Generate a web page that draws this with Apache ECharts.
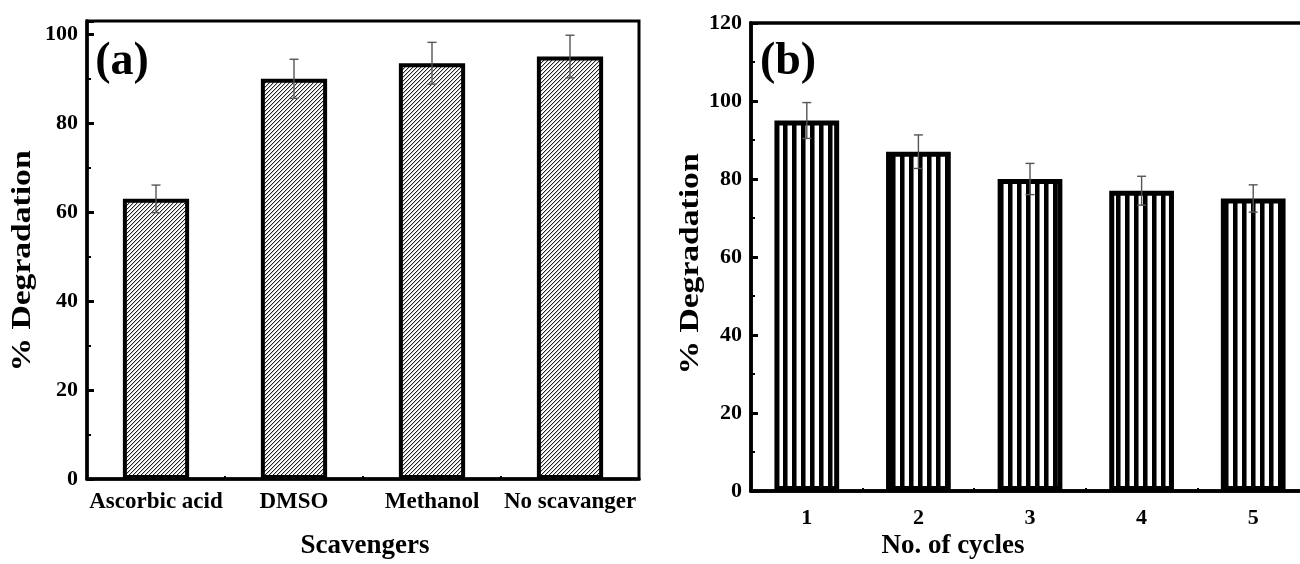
<!DOCTYPE html>
<html>
<head>
<meta charset="utf-8">
<script src="https://cdn.jsdelivr.net/npm/echarts@6/dist/echarts.min.js"></script>
<style>
  html, body { margin: 0; padding: 0; background: #fff; }
  #chart { width: 1300px; height: 564px; }
</style>
</head>
<body>
<div id="chart"></div>
<script>
// Panel (a): scavenger test
const scavengers = ['Ascorbic acid', 'DMSO', 'Methanol', 'No scavanger'];
const scavengerDegradation = [63, 90, 93.5, 95];
const scavengerError = [3.1, 4.4, 4.7, 4.8];

// Panel (b): reusability over cycles
const cycles = ['1', '2', '3', '4', '5'];
const cycleDegradation = [95, 87, 80, 77, 75];
const cycleError = [4.6, 4.3, 4.0, 3.7, 3.5];

const SERIF = '"Liberation Serif", "Times New Roman", serif';

// Dense "////" hatching tile
function hatchPattern() {
  const c = document.createElement('canvas');
  c.width = 4; c.height = 4;
  const ctx = c.getContext('2d');
  const img = ctx.createImageData(4, 4);
  for (let y = 0; y < 4; y++) {
    for (let x = 0; x < 4; x++) {
      const k = (x + y) % 4;
      const v = k === 3 ? 35 : (k === 0 ? 195 : 255);
      const p = (y * 4 + x) * 4;
      img.data[p] = img.data[p + 1] = img.data[p + 2] = v;
      img.data[p + 3] = 255;
    }
  }
  ctx.putImageData(img, 0, 0);
  return { image: c, repeat: 'repeat' };
}

// Vertical stripe tile
function stripePattern() {
  const w = 9;
  const c = document.createElement('canvas');
  c.width = w; c.height = 2;
  const ctx = c.getContext('2d');
  ctx.fillStyle = '#fff';
  ctx.fillRect(0, 0, w, 2);
  ctx.fillStyle = '#000';
  ctx.fillRect(0, 0, 4, 2);
  ctx.fillStyle = '#777';
  ctx.fillRect(4, 0, 1, 2);
  return { image: c, repeat: 'repeat' };
}

function errorBar(params, api) {
  const i = api.value(0), v = api.value(1), e = api.value(2);
  const top = api.coord([i, v + e]);
  const bot = api.coord([i, v - e]);
  const w = 4.5;
  const style = { stroke: '#555', lineWidth: 1.4, fill: null };
  return {
    type: 'group',
    children: [
      { type: 'line', shape: { x1: top[0], y1: top[1], x2: bot[0], y2: bot[1] }, style },
      { type: 'line', shape: { x1: top[0] - w, y1: top[1], x2: top[0] + w, y2: top[1] }, style },
      { type: 'line', shape: { x1: bot[0] - w, y1: bot[1], x2: bot[0] + w, y2: bot[1] }, style }
    ]
  };
}

const tickFont = { color: '#000', fontFamily: SERIF, fontWeight: 'bold' };

function valueAxis(gridIndex, max, opts) {
  return Object.assign({
    gridIndex, type: 'value', min: 0, max, interval: 20, position: 'left',
    axisLine: { show: true, lineStyle: { color: '#000', width: 3.5 } },
    axisTick: { show: true, inside: true, length: 7, lineStyle: { color: '#000', width: 3 } },
    axisLabel: Object.assign({ fontSize: 22, margin: 9, formatter: v => (v % 20 === 0 ? String(v) : '') }, tickFont),
    splitLine: { show: false }
  }, opts || {});
}

function categoryAxes(gridIndex, data, labelSize, labelMargin) {
  return [
    {
      gridIndex, type: 'category', data, position: 'bottom',
      axisLine: { show: true, lineStyle: { color: '#000', width: 3.5 } },
      axisTick: { show: true, inside: true, alignWithLabel: true, length: 7, lineStyle: { color: '#000', width: 1.5 } },
      axisLabel: Object.assign({ fontSize: labelSize, margin: labelMargin, interval: 0 }, tickFont),
      splitLine: { show: false }
    },
    {
      gridIndex, type: 'category', data, position: 'bottom',
      axisLine: { show: false },
      axisTick: { show: true, inside: true, length: 3, lineStyle: { color: '#000', width: 2 } },
      axisLabel: { show: false },
      splitLine: { show: false }
    }
  ];
}

function textEl(text, x, y, size, extra) {
  return Object.assign({
    type: 'text', x, y,
    style: {
      text, fill: '#000',
      font: 'bold ' + size + 'px ' + SERIF,
      textAlign: 'center', textVerticalAlign: 'middle',
      align: 'center', verticalAlign: 'middle'
    }
  }, extra || {});
}

const chart = echarts.init(document.getElementById('chart'), null, { renderer: 'canvas' });

chart.setOption({
  animation: false,
  backgroundColor: '#fff',
  grid: [
    { left: 87, top: 21, width: 552, height: 458, outerBoundsMode: 'none', containLabel: false,
      show: true, borderColor: '#000', borderWidth: 3, backgroundColor: 'transparent' },
    // panel (b) runs past the right edge of the page
    { left: 751, top: 23, width: 558, height: 468, outerBoundsMode: 'none', containLabel: false,
      show: true, borderColor: '#000', borderWidth: 3.5, backgroundColor: 'transparent' }
  ],
  xAxis: [
    ...categoryAxes(0, scavengers, 23, 12),
    ...categoryAxes(1, cycles, 22, 16)
  ],
  yAxis: [
    valueAxis(0, 103),
    // minor ticks for panel (a)
    valueAxis(0, 103, {
      interval: 10,
      axisLine: { show: false },
      axisTick: { show: true, inside: true, length: 4, lineStyle: { color: '#000', width: 2 } },
      axisLabel: { show: false }
    }),
    valueAxis(1, 120, {
      minorTick: { show: true, splitNumber: 2, length: 4, lineStyle: { color: '#000', width: 2 } }
    })
  ],
  series: [
    {
      type: 'bar', xAxisIndex: 0, yAxisIndex: 0, data: scavengerDegradation,
      barWidth: '48%', silent: true,
      itemStyle: { color: hatchPattern(), borderColor: '#000', borderWidth: 4 }
    },
    {
      type: 'custom', xAxisIndex: 0, yAxisIndex: 0, z: 10, silent: true,
      data: scavengerDegradation.map((v, i) => [i, v, scavengerError[i]]),
      encode: { x: 0, y: 1 },
      renderItem: errorBar
    },
    {
      type: 'bar', xAxisIndex: 2, yAxisIndex: 2, data: cycleDegradation,
      barWidth: '58%', silent: true,
      itemStyle: { color: stripePattern(), borderColor: '#000', borderWidth: 5 }
    },
    {
      type: 'custom', xAxisIndex: 2, yAxisIndex: 2, z: 10, silent: true,
      data: cycleDegradation.map((v, i) => [i, v, cycleError[i]]),
      encode: { x: 0, y: 1 },
      renderItem: errorBar
    }
  ],
  graphic: [
    textEl('(a)', 122, 62, 46),
    textEl('(b)', 788, 62, 46),
    textEl('% Degradation', 23, 261, 28, { rotation: Math.PI / 2, scaleX: 1.2 }),
    textEl('% Degradation', 691, 264, 28, { rotation: Math.PI / 2, scaleX: 1.2 }),
    textEl('Scavengers', 365, 546, 27),
    textEl('No. of cycles', 953, 546, 27)
  ]
});
</script>
</body>
</html>
